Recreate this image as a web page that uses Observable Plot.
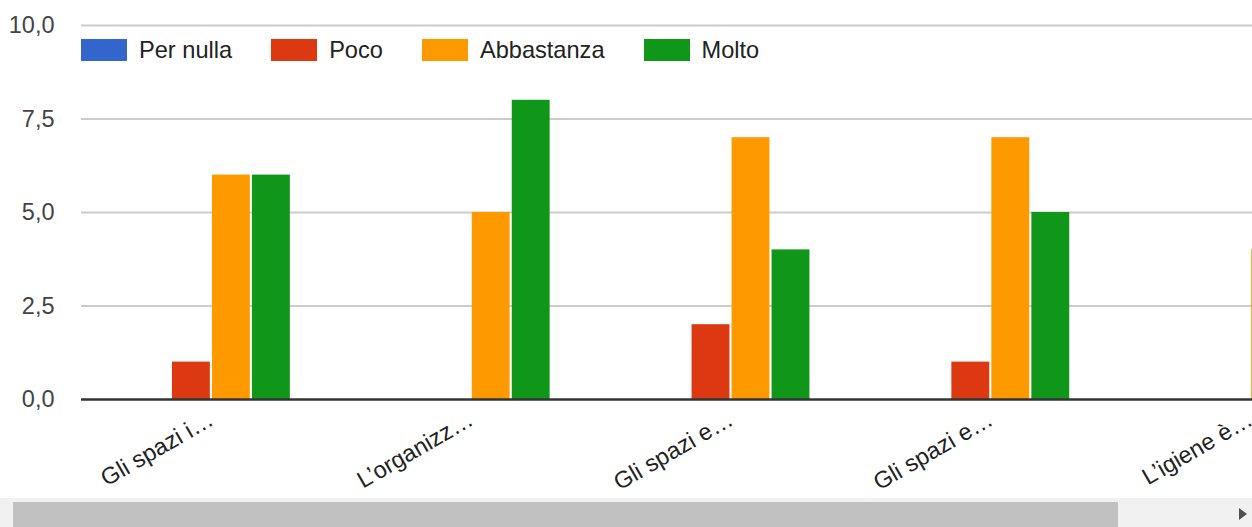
<!DOCTYPE html>
<html>
<head>
<meta charset="utf-8">
<script src="https://cdn.jsdelivr.net/npm/d3@7"></script>
<script src="https://cdn.jsdelivr.net/npm/@observablehq/plot@0.6"></script>
<style>
  html, body { margin: 0; padding: 0; background: #fff; }
  #wrap { position: relative; width: 1252px; height: 527px; overflow: hidden; font-family: "Liberation Sans", Arial, sans-serif; }
  #legend { position: absolute; left: 81px; top: 39px; height: 22px; line-height: 22px; display: flex; align-items: center; font-size: 23.6px; color: #222; }
  .item { display: flex; align-items: center; margin-right: 39px; }
  .sw { width: 46px; height: 22px; margin-right: 12px; }
  #track { position: absolute; left: 0; top: 498px; width: 1252px; height: 29px; background: #f1f1f1; }
  #thumb { position: absolute; left: 13px; top: 4px; width: 1105px; height: 25px; background: #c1c1c1; }
  #arrow { position: absolute; left: 1239px; top: 10px; width: 0; height: 0; border-top: 6px solid transparent; border-bottom: 6px solid transparent; border-left: 8px solid #505050; }
</style>
</head>
<body>
<div id="wrap">
  <div id="chart"></div>
  <div id="legend"></div>
  <div id="track"><div id="thumb"></div><div id="arrow"></div></div>
</div>
<script>
const labels = ["Gli spazi i…", "L’organizz…", "Gli spazi e…", "Gli spazi e…", "L’igiene è…"];
const seriesNames = ["Per nulla", "Poco", "Abbastanza", "Molto"];
const colors = ["#3366cc", "#dc3912", "#ff9900", "#109618"];
const perNulla   = [0, 0, 0, 0, 0];
const poco       = [1, 0, 2, 1, 0];
const abbastanza = [6, 5, 7, 7, 4];
const molto      = [6, 8, 4, 5, 9];
const yTicks = [0, 2.5, 5, 7.5, 10];

const seriesValues = [perNulla, poco, abbastanza, molto];
const idx = labels.map((_, i) => i);
const fmt = v => d3.format(".1f")(v).replace(".", ",");

const barMarks = seriesValues.map((vals, s) =>
  Plot.barY(idx.map(i => ({cat: i, value: vals[i]})), {
    x: "cat", y: "value", fill: colors[s],
    insetLeft: 40 * s + 1, insetRight: 40 * (3 - s) + 1
  })
);

const chart = Plot.plot({
  width: 1380, height: 498,
  marginLeft: 81, marginRight: 0, marginTop: 25, marginBottom: 99,
  style: { fontFamily: "'Liberation Sans', Arial, sans-serif", fontSize: "23.5px", maxWidth: "none", background: "#fff", overflow: "visible" },
  x: { domain: idx, round: false, paddingInner: 100/260, paddingOuter: 50/260, tickSize: 0, tickPadding: 18, tickRotate: -30, tickFormat: i => labels[i], label: null },
  y: { domain: [0, 10], ticks: yTicks, tickSize: 0, tickPadding: 27, tickFormat: fmt, label: null },
  marks: [
    Plot.ruleY(yTicks.filter(d => d > 0), { stroke: "#cccccc", strokeWidth: 2 }),
    ...barMarks,
    Plot.ruleY([0], { stroke: "#333333", strokeWidth: 2.6 })
  ]
});
document.getElementById("chart").appendChild(chart);
d3.select(chart).selectAll('[aria-label^="y-axis"] text').attr("fill", "#444");
d3.select(chart).selectAll('[aria-label^="x-axis"] text').attr("fill", "#222");

const leg = d3.select("#legend");
seriesNames.forEach((n, i) => {
  const it = leg.append("div").attr("class", "item");
  it.append("div").attr("class", "sw").style("background", colors[i]);
  it.append("span").text(n);
});
</script>
</body>
</html>
